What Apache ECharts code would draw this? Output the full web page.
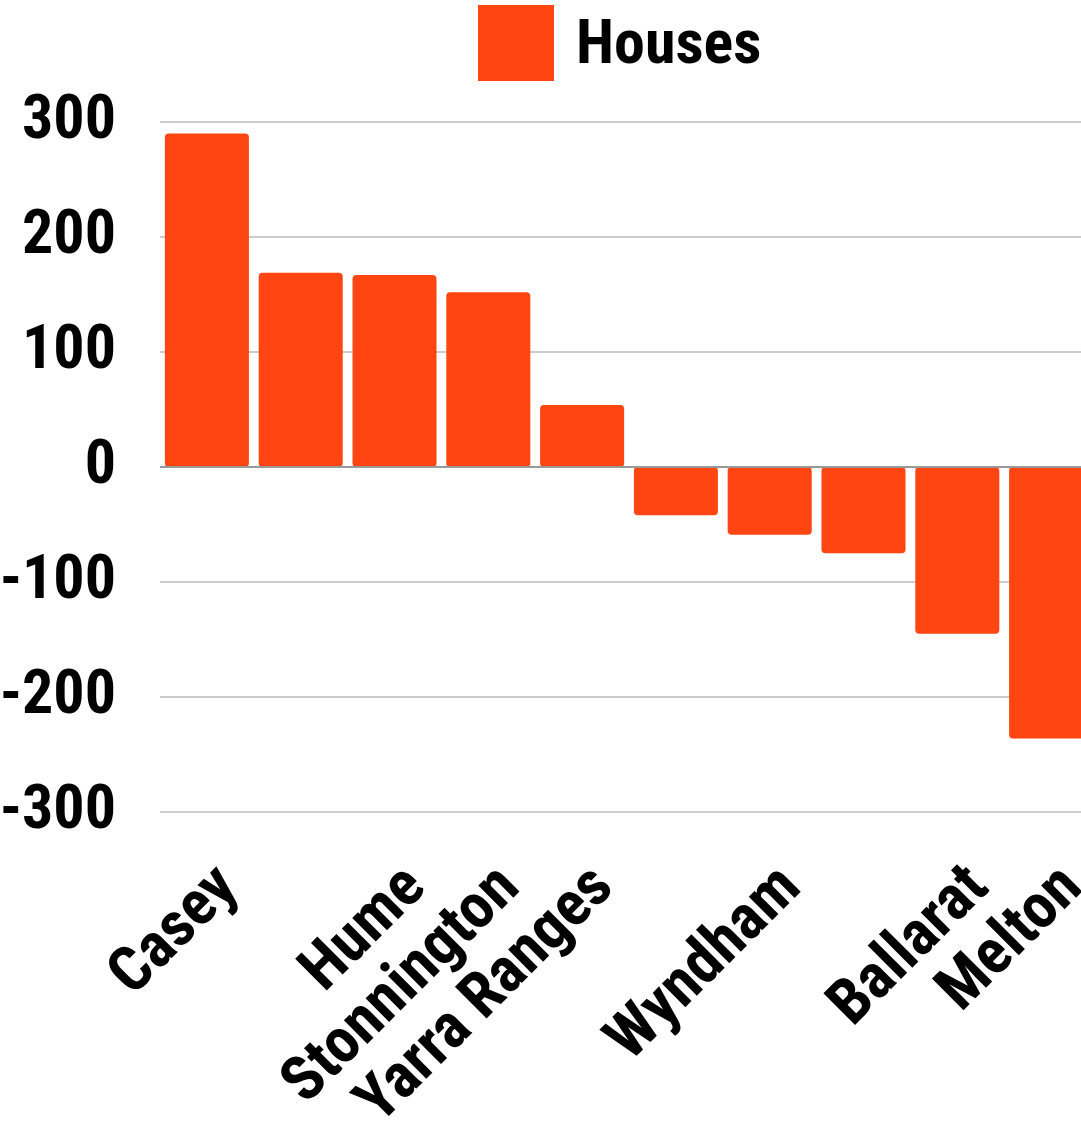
<!DOCTYPE html>
<html>
<head>
<meta charset="utf-8">
<script src="https://cdn.jsdelivr.net/npm/echarts@6/dist/echarts.min.js"></script>
<style>
html,body{margin:0;padding:0;background:#fff;}
#chart{width:1081px;height:1125px;}
</style>
</head>
<body>
<div id="chart"></div>
<script>
// Categories (labels hidden in the reference are unknown, left blank)
const categories = ["Casey", "", "Hume", "Stonnington", "Yarra Ranges", "", "Wyndham", "", "Ballarat", "Melton"];
const seriesName = "Houses";
const houses = [290, 169, 167, 152, 54, -42, -59, -75, -145, -236];
const yTicks = { min: -300, max: 300, interval: 100 };

const FONT = '"Roboto Condensed", "Liberation Sans Narrow", "Arial Narrow", Roboto, sans-serif';
const BAR = '#FF4612';

const chart = echarts.init(document.getElementById('chart'), null, {renderer: 'canvas'});
chart.setOption({
  animation: false,
  backgroundColor: '#ffffff',
  legend: {
    top: 0,
    left: 473,
    itemWidth: 76,
    itemHeight: 76,
    itemGap: 20,
    icon: 'rect',
    formatter: '{t|{name}}',
    textStyle: {
      fontFamily: FONT, fontWeight: 'bold', fontSize: 62, color: '#000', padding: [0,0,0,17],
      rich: { t: { fontFamily: FONT, fontWeight: 'bold', fontSize: 62, color: '#000', padding: [9,0,0,0] } }
    },
    data: [seriesName]
  },
  grid: {
    left: 160, top: 122, width: 938, height: 690,
    containLabel: false,
    outerBoundsMode: 'none'
  },
  xAxis: {
    type: 'category',
    data: categories,
    axisLine: { show: false, onZero: false },
    axisTick: { show: false },
    axisLabel: {
      interval: 0,
      rotate: 45,
      margin: 44,
      verticalAlign: 'top',
      fontFamily: FONT, fontWeight: 'bold', fontSize: 63, color: '#000'
    }
  },
  yAxis: {
    type: 'value',
    min: yTicks.min, max: yTicks.max, interval: yTicks.interval,
    axisLine: { show: false },
    axisTick: { show: false },
    splitLine: { lineStyle: { color: '#cccccc', width: 2 } },
    axisLabel: {
      margin: 44,
      fontFamily: FONT, fontWeight: 'bold', fontSize: 62, color: '#000'
    }
  },
  series: [{
    name: seriesName,
    type: 'bar',
    data: houses,
    barCategoryGap: '10.4%',
    itemStyle: { color: BAR, borderRadius: 4 },
    markLine: {
      silent: true,
      symbol: 'none',
      label: { show: false },
      lineStyle: { color: '#999999', width: 2, type: 'solid' },
      data: [{ yAxis: 0 }]
    }
  }]
});
</script>
</body>
</html>
